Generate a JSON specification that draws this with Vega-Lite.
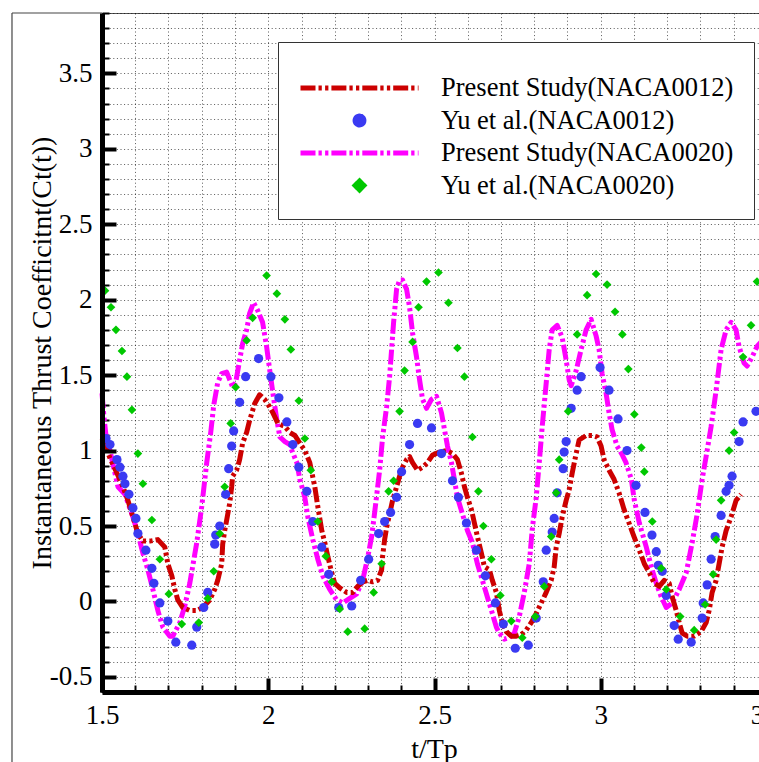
{
"$schema": "https://vega.github.io/schema/vega-lite/v6.json",
"width": 665, "height": 679,
"autosize": {"type": "none"},
"padding": {"left": 102, "top": 13, "right": -8, "bottom": 70},
"background": "white",
"config": {"view": {"stroke": "#555", "strokeWidth": 1}, "font": "Liberation Serif"},
"data": {"values": [
{"s":"P20","t":1.5,"c":1.38},{"s":"P20","t":1.506,"c":1.22},{"s":"P20","t":1.512,"c":1.1},{"s":"P20","t":1.524,"c":1.0},{"s":"P20","t":1.548,"c":0.76},{"s":"P20","t":1.569,"c":0.71},{"s":"P20","t":1.593,"c":0.56},{"s":"P20","t":1.608,"c":0.45},{"s":"P20","t":1.623,"c":0.32},{"s":"P20","t":1.638,"c":0.21},{"s":"P20","t":1.653,"c":0.08},{"s":"P20","t":1.668,"c":-0.06},{"s":"P20","t":1.683,"c":-0.17},{"s":"P20","t":1.704,"c":-0.23},{"s":"P20","t":1.713,"c":-0.23},{"s":"P20","t":1.734,"c":-0.14},{"s":"P20","t":1.749,"c":-0.03},{"s":"P20","t":1.764,"c":0.12},{"s":"P20","t":1.785,"c":0.39},{"s":"P20","t":1.8,"c":0.63},{"s":"P20","t":1.815,"c":0.92},{"s":"P20","t":1.827,"c":1.12},{"s":"P20","t":1.836,"c":1.3},{"s":"P20","t":1.848,"c":1.45},{"s":"P20","t":1.86,"c":1.51},{"s":"P20","t":1.875,"c":1.52},{"s":"P20","t":1.893,"c":1.42},{"s":"P20","t":1.902,"c":1.45},{"s":"P20","t":1.914,"c":1.6},{"s":"P20","t":1.923,"c":1.71},{"s":"P20","t":1.935,"c":1.8},{"s":"P20","t":1.944,"c":1.91},{"s":"P20","t":1.956,"c":1.98},{"s":"P20","t":1.968,"c":1.93},{"s":"P20","t":1.983,"c":1.85},{"s":"P20","t":1.995,"c":1.69},{"s":"P20","t":2.004,"c":1.54},{"s":"P20","t":2.014,"c":1.38},{"s":"P20","t":2.026,"c":1.2},{"s":"P20","t":2.035,"c":1.09},{"s":"P20","t":2.05,"c":1.06},{"s":"P20","t":2.065,"c":1.04},{"s":"P20","t":2.071,"c":1.0},{"s":"P20","t":2.086,"c":0.92},{"s":"P20","t":2.095,"c":0.81},{"s":"P20","t":2.11,"c":0.69},{"s":"P20","t":2.119,"c":0.56},{"s":"P20","t":2.134,"c":0.41},{"s":"P20","t":2.149,"c":0.28},{"s":"P20","t":2.164,"c":0.17},{"s":"P20","t":2.185,"c":0.08},{"s":"P20","t":2.206,"c":0.01},{"s":"P20","t":2.224,"c":-0.01},{"s":"P20","t":2.245,"c":0.02},{"s":"P20","t":2.266,"c":0.05},{"s":"P20","t":2.284,"c":0.14},{"s":"P20","t":2.299,"c":0.29},{"s":"P20","t":2.311,"c":0.43},{"s":"P20","t":2.32,"c":0.59},{"s":"P20","t":2.335,"c":0.87},{"s":"P20","t":2.344,"c":1.09},{"s":"P20","t":2.356,"c":1.29},{"s":"P20","t":2.365,"c":1.49},{"s":"P20","t":2.371,"c":1.67},{"s":"P20","t":2.377,"c":1.85},{"s":"P20","t":2.386,"c":2.07},{"s":"P20","t":2.395,"c":2.13},{"s":"P20","t":2.404,"c":2.13},{"s":"P20","t":2.416,"c":2.07},{"s":"P20","t":2.425,"c":1.95},{"s":"P20","t":2.434,"c":1.78},{"s":"P20","t":2.446,"c":1.62},{"s":"P20","t":2.455,"c":1.47},{"s":"P20","t":2.464,"c":1.34},{"s":"P20","t":2.476,"c":1.28},{"s":"P20","t":2.491,"c":1.34},{"s":"P20","t":2.506,"c":1.36},{"s":"P20","t":2.521,"c":1.25},{"s":"P20","t":2.53,"c":1.14},{"s":"P20","t":2.539,"c":1.03},{"s":"P20","t":2.551,"c":0.92},{"s":"P20","t":2.569,"c":0.69},{"s":"P20","t":2.584,"c":0.58},{"s":"P20","t":2.599,"c":0.47},{"s":"P20","t":2.614,"c":0.39},{"s":"P20","t":2.629,"c":0.25},{"s":"P20","t":2.644,"c":0.14},{"s":"P20","t":2.659,"c":0.03},{"s":"P20","t":2.674,"c":-0.08},{"s":"P20","t":2.686,"c":-0.17},{"s":"P20","t":2.695,"c":-0.21},{"s":"P20","t":2.71,"c":-0.25},{"s":"P20","t":2.725,"c":-0.24},{"s":"P20","t":2.74,"c":-0.21},{"s":"P20","t":2.755,"c":-0.1},{"s":"P20","t":2.77,"c":0.06},{"s":"P20","t":2.785,"c":0.25},{"s":"P20","t":2.794,"c":0.48},{"s":"P20","t":2.806,"c":0.69},{"s":"P20","t":2.815,"c":0.92},{"s":"P20","t":2.824,"c":1.16},{"s":"P20","t":2.836,"c":1.45},{"s":"P20","t":2.845,"c":1.67},{"s":"P20","t":2.854,"c":1.8},{"s":"P20","t":2.869,"c":1.83},{"s":"P20","t":2.884,"c":1.75},{"s":"P20","t":2.896,"c":1.6},{"s":"P20","t":2.905,"c":1.47},{"s":"P20","t":2.911,"c":1.43},{"s":"P20","t":2.926,"c":1.53},{"s":"P20","t":2.941,"c":1.67},{"s":"P20","t":2.956,"c":1.8},{"s":"P20","t":2.971,"c":1.87},{"s":"P20","t":2.986,"c":1.76},{"s":"P20","t":2.995,"c":1.67},{"s":"P20","t":3.004,"c":1.51},{"s":"P20","t":3.016,"c":1.38},{"s":"P20","t":3.025,"c":1.25},{"s":"P20","t":3.034,"c":1.14},{"s":"P20","t":3.049,"c":1.03},{"s":"P20","t":3.065,"c":0.97},{"s":"P20","t":3.076,"c":0.92},{"s":"P20","t":3.092,"c":0.81},{"s":"P20","t":3.101,"c":0.67},{"s":"P20","t":3.116,"c":0.52},{"s":"P20","t":3.137,"c":0.36},{"s":"P20","t":3.152,"c":0.23},{"s":"P20","t":3.167,"c":0.12},{"s":"P20","t":3.182,"c":0.03},{"s":"P20","t":3.197,"c":-0.04},{"s":"P20","t":3.215,"c":-0.01},{"s":"P20","t":3.236,"c":0.08},{"s":"P20","t":3.257,"c":0.19},{"s":"P20","t":3.275,"c":0.39},{"s":"P20","t":3.29,"c":0.58},{"s":"P20","t":3.305,"c":0.81},{"s":"P20","t":3.32,"c":1.0},{"s":"P20","t":3.332,"c":1.16},{"s":"P20","t":3.347,"c":1.4},{"s":"P20","t":3.362,"c":1.67},{"s":"P20","t":3.377,"c":1.8},{"s":"P20","t":3.392,"c":1.85},{"s":"P20","t":3.407,"c":1.8},{"s":"P20","t":3.416,"c":1.69},{"s":"P20","t":3.431,"c":1.58},{"s":"P20","t":3.44,"c":1.56},{"s":"P20","t":3.455,"c":1.62},{"s":"P20","t":3.47,"c":1.69},{"s":"P20","t":3.49,"c":1.74},
{"s":"P12","t":1.5,"c":1.08},{"s":"P12","t":1.512,"c":1.02},{"s":"P12","t":1.524,"c":0.95},{"s":"P12","t":1.545,"c":0.85},{"s":"P12","t":1.563,"c":0.76},{"s":"P12","t":1.578,"c":0.67},{"s":"P12","t":1.593,"c":0.56},{"s":"P12","t":1.608,"c":0.45},{"s":"P12","t":1.623,"c":0.4},{"s":"P12","t":1.644,"c":0.4},{"s":"P12","t":1.668,"c":0.41},{"s":"P12","t":1.689,"c":0.36},{"s":"P12","t":1.698,"c":0.25},{"s":"P12","t":1.71,"c":0.17},{"s":"P12","t":1.719,"c":0.08},{"s":"P12","t":1.728,"c":0.01},{"s":"P12","t":1.743,"c":-0.04},{"s":"P12","t":1.764,"c":-0.06},{"s":"P12","t":1.785,"c":-0.06},{"s":"P12","t":1.803,"c":-0.04},{"s":"P12","t":1.824,"c":0.01},{"s":"P12","t":1.839,"c":0.08},{"s":"P12","t":1.848,"c":0.14},{"s":"P12","t":1.86,"c":0.25},{"s":"P12","t":1.863,"c":0.38},{"s":"P12","t":1.869,"c":0.47},{"s":"P12","t":1.875,"c":0.54},{"s":"P12","t":1.884,"c":0.65},{"s":"P12","t":1.89,"c":0.76},{"s":"P12","t":1.893,"c":0.83},{"s":"P12","t":1.905,"c":0.87},{"s":"P12","t":1.914,"c":0.94},{"s":"P12","t":1.923,"c":1.05},{"s":"P12","t":1.935,"c":1.12},{"s":"P12","t":1.944,"c":1.2},{"s":"P12","t":1.959,"c":1.31},{"s":"P12","t":1.974,"c":1.37},{"s":"P12","t":1.989,"c":1.34},{"s":"P12","t":2.004,"c":1.29},{"s":"P12","t":2.014,"c":1.25},{"s":"P12","t":2.029,"c":1.18},{"s":"P12","t":2.05,"c":1.16},{"s":"P12","t":2.065,"c":1.12},{"s":"P12","t":2.08,"c":1.1},{"s":"P12","t":2.095,"c":1.05},{"s":"P12","t":2.11,"c":1.0},{"s":"P12","t":2.125,"c":0.92},{"s":"P12","t":2.14,"c":0.76},{"s":"P12","t":2.149,"c":0.63},{"s":"P12","t":2.161,"c":0.47},{"s":"P12","t":2.17,"c":0.39},{"s":"P12","t":2.179,"c":0.3},{"s":"P12","t":2.191,"c":0.19},{"s":"P12","t":2.2,"c":0.12},{"s":"P12","t":2.215,"c":0.09},{"s":"P12","t":2.236,"c":0.06},{"s":"P12","t":2.254,"c":0.06},{"s":"P12","t":2.269,"c":0.1},{"s":"P12","t":2.284,"c":0.13},{"s":"P12","t":2.299,"c":0.14},{"s":"P12","t":2.314,"c":0.13},{"s":"P12","t":2.329,"c":0.14},{"s":"P12","t":2.341,"c":0.21},{"s":"P12","t":2.344,"c":0.3},{"s":"P12","t":2.35,"c":0.41},{"s":"P12","t":2.356,"c":0.49},{"s":"P12","t":2.365,"c":0.58},{"s":"P12","t":2.374,"c":0.67},{"s":"P12","t":2.386,"c":0.76},{"s":"P12","t":2.395,"c":0.83},{"s":"P12","t":2.404,"c":0.89},{"s":"P12","t":2.416,"c":0.94},{"s":"P12","t":2.425,"c":0.96},{"s":"P12","t":2.434,"c":0.92},{"s":"P12","t":2.449,"c":0.87},{"s":"P12","t":2.464,"c":0.89},{"s":"P12","t":2.479,"c":0.92},{"s":"P12","t":2.494,"c":0.97},{"s":"P12","t":2.515,"c":0.99},{"s":"P12","t":2.536,"c":1.0},{"s":"P12","t":2.554,"c":0.98},{"s":"P12","t":2.569,"c":0.94},{"s":"P12","t":2.581,"c":0.85},{"s":"P12","t":2.59,"c":0.76},{"s":"P12","t":2.599,"c":0.69},{"s":"P12","t":2.611,"c":0.61},{"s":"P12","t":2.62,"c":0.52},{"s":"P12","t":2.629,"c":0.43},{"s":"P12","t":2.641,"c":0.32},{"s":"P12","t":2.65,"c":0.23},{"s":"P12","t":2.665,"c":0.21},{"s":"P12","t":2.674,"c":0.14},{"s":"P12","t":2.686,"c":0.06},{"s":"P12","t":2.695,"c":-0.06},{"s":"P12","t":2.704,"c":-0.14},{"s":"P12","t":2.716,"c":-0.2},{"s":"P12","t":2.731,"c":-0.23},{"s":"P12","t":2.746,"c":-0.23},{"s":"P12","t":2.761,"c":-0.22},{"s":"P12","t":2.776,"c":-0.19},{"s":"P12","t":2.791,"c":-0.14},{"s":"P12","t":2.806,"c":-0.08},{"s":"P12","t":2.821,"c":-0.01},{"s":"P12","t":2.836,"c":0.06},{"s":"P12","t":2.851,"c":0.14},{"s":"P12","t":2.86,"c":0.23},{"s":"P12","t":2.866,"c":0.36},{"s":"P12","t":2.875,"c":0.45},{"s":"P12","t":2.884,"c":0.56},{"s":"P12","t":2.896,"c":0.67},{"s":"P12","t":2.905,"c":0.74},{"s":"P12","t":2.914,"c":0.85},{"s":"P12","t":2.926,"c":0.98},{"s":"P12","t":2.935,"c":1.07},{"s":"P12","t":2.956,"c":1.1},{"s":"P12","t":2.974,"c":1.1},{"s":"P12","t":2.989,"c":1.09},{"s":"P12","t":3.001,"c":1.03},{"s":"P12","t":3.01,"c":0.94},{"s":"P12","t":3.025,"c":0.87},{"s":"P12","t":3.04,"c":0.81},{"s":"P12","t":3.055,"c":0.72},{"s":"P12","t":3.07,"c":0.61},{"s":"P12","t":3.085,"c":0.52},{"s":"P12","t":3.1,"c":0.43},{"s":"P12","t":3.116,"c":0.34},{"s":"P12","t":3.131,"c":0.25},{"s":"P12","t":3.146,"c":0.19},{"s":"P12","t":3.161,"c":0.12},{"s":"P12","t":3.176,"c":0.1},{"s":"P12","t":3.191,"c":0.14},{"s":"P12","t":3.206,"c":0.12},{"s":"P12","t":3.215,"c":0.03},{"s":"P12","t":3.227,"c":-0.06},{"s":"P12","t":3.236,"c":-0.14},{"s":"P12","t":3.245,"c":-0.21},{"s":"P12","t":3.26,"c":-0.23},{"s":"P12","t":3.281,"c":-0.23},{"s":"P12","t":3.302,"c":-0.2},{"s":"P12","t":3.317,"c":-0.14},{"s":"P12","t":3.326,"c":-0.06},{"s":"P12","t":3.335,"c":0.06},{"s":"P12","t":3.347,"c":0.14},{"s":"P12","t":3.356,"c":0.25},{"s":"P12","t":3.365,"c":0.36},{"s":"P12","t":3.377,"c":0.47},{"s":"P12","t":3.392,"c":0.56},{"s":"P12","t":3.407,"c":0.67},{"s":"P12","t":3.422,"c":0.71},
{"s":"Y12","t":1.512,"c":1.08},{"s":"Y12","t":1.524,"c":1.04},{"s":"Y12","t":1.545,"c":0.94},{"s":"Y12","t":1.554,"c":0.89},{"s":"Y12","t":1.563,"c":0.83},{"s":"Y12","t":1.569,"c":0.78},{"s":"Y12","t":1.581,"c":0.71},{"s":"Y12","t":1.593,"c":0.62},{"s":"Y12","t":1.602,"c":0.55},{"s":"Y12","t":1.608,"c":0.45},{"s":"Y12","t":1.632,"c":0.34},{"s":"Y12","t":1.65,"c":0.22},{"s":"Y12","t":1.656,"c":0.12},{"s":"Y12","t":1.674,"c":-0.01},{"s":"Y12","t":1.698,"c":-0.13},{"s":"Y12","t":1.722,"c":-0.27},{"s":"Y12","t":1.77,"c":-0.29},{"s":"Y12","t":1.785,"c":-0.17},{"s":"Y12","t":1.806,"c":-0.04},{"s":"Y12","t":1.818,"c":0.06},{"s":"Y12","t":1.839,"c":0.38},{"s":"Y12","t":1.842,"c":0.44},{"s":"Y12","t":1.854,"c":0.5},{"s":"Y12","t":1.872,"c":0.71},{"s":"Y12","t":1.881,"c":0.88},{"s":"Y12","t":1.89,"c":1.03},{"s":"Y12","t":1.896,"c":1.13},{"s":"Y12","t":1.914,"c":1.32},{"s":"Y12","t":1.932,"c":1.49},{"s":"Y12","t":1.971,"c":1.61},{"s":"Y12","t":2.008,"c":1.49},{"s":"Y12","t":2.032,"c":1.35},{"s":"Y12","t":2.056,"c":1.19},{"s":"Y12","t":2.074,"c":1.04},{"s":"Y12","t":2.092,"c":0.89},{"s":"Y12","t":2.116,"c":0.73},{"s":"Y12","t":2.134,"c":0.53},{"s":"Y12","t":2.161,"c":0.36},{"s":"Y12","t":2.182,"c":0.18},{"s":"Y12","t":2.212,"c":-0.04},{"s":"Y12","t":2.251,"c":-0.03},{"s":"Y12","t":2.278,"c":0.14},{"s":"Y12","t":2.302,"c":0.28},{"s":"Y12","t":2.332,"c":0.45},{"s":"Y12","t":2.35,"c":0.53},{"s":"Y12","t":2.368,"c":0.59},{"s":"Y12","t":2.386,"c":0.69},{"s":"Y12","t":2.401,"c":0.86},{"s":"Y12","t":2.425,"c":1.04},{"s":"Y12","t":2.449,"c":1.18},{"s":"Y12","t":2.491,"c":1.15},{"s":"Y12","t":2.521,"c":0.98},{"s":"Y12","t":2.554,"c":0.8},{"s":"Y12","t":2.572,"c":0.69},{"s":"Y12","t":2.596,"c":0.52},{"s":"Y12","t":2.626,"c":0.34},{"s":"Y12","t":2.653,"c":0.17},{"s":"Y12","t":2.683,"c":-0.01},{"s":"Y12","t":2.707,"c":-0.15},{"s":"Y12","t":2.743,"c":-0.31},{"s":"Y12","t":2.782,"c":-0.29},{"s":"Y12","t":2.806,"c":-0.11},{"s":"Y12","t":2.827,"c":0.13},{"s":"Y12","t":2.836,"c":0.34},{"s":"Y12","t":2.854,"c":0.46},{"s":"Y12","t":2.86,"c":0.55},{"s":"Y12","t":2.869,"c":0.72},{"s":"Y12","t":2.887,"c":0.88},{"s":"Y12","t":2.89,"c":0.99},{"s":"Y12","t":2.896,"c":1.06},{"s":"Y12","t":2.911,"c":1.28},{"s":"Y12","t":2.929,"c":1.4},{"s":"Y12","t":2.941,"c":1.49},{"s":"Y12","t":2.998,"c":1.55},{"s":"Y12","t":3.025,"c":1.4},{"s":"Y12","t":3.052,"c":1.21},{"s":"Y12","t":3.079,"c":1.0},{"s":"Y12","t":3.106,"c":0.77},{"s":"Y12","t":3.133,"c":0.59},{"s":"Y12","t":3.154,"c":0.44},{"s":"Y12","t":3.167,"c":0.33},{"s":"Y12","t":3.173,"c":0.24},{"s":"Y12","t":3.185,"c":0.2},{"s":"Y12","t":3.197,"c":0.04},{"s":"Y12","t":3.221,"c":-0.16},{"s":"Y12","t":3.233,"c":-0.25},{"s":"Y12","t":3.272,"c":-0.27},{"s":"Y12","t":3.305,"c":-0.11},{"s":"Y12","t":3.308,"c":-0.01},{"s":"Y12","t":3.32,"c":0.11},{"s":"Y12","t":3.332,"c":0.28},{"s":"Y12","t":3.344,"c":0.43},{"s":"Y12","t":3.362,"c":0.57},{"s":"Y12","t":3.377,"c":0.73},{"s":"Y12","t":3.386,"c":0.77},{"s":"Y12","t":3.395,"c":0.83},{"s":"Y12","t":3.416,"c":1.06},{"s":"Y12","t":3.428,"c":1.19},{"s":"Y12","t":3.467,"c":1.26},
{"s":"Y20","t":1.509,"c":2.06},{"s":"Y20","t":1.527,"c":1.95},{"s":"Y20","t":1.542,"c":1.8},{"s":"Y20","t":1.56,"c":1.66},{"s":"Y20","t":1.575,"c":1.49},{"s":"Y20","t":1.59,"c":1.27},{"s":"Y20","t":1.608,"c":0.98},{"s":"Y20","t":1.623,"c":0.78},{"s":"Y20","t":1.65,"c":0.54},{"s":"Y20","t":1.674,"c":0.28},{"s":"Y20","t":1.701,"c":0.05},{"s":"Y20","t":1.74,"c":-0.15},{"s":"Y20","t":1.791,"c":-0.14},{"s":"Y20","t":1.818,"c":0.02},{"s":"Y20","t":1.836,"c":0.2},{"s":"Y20","t":1.854,"c":0.45},{"s":"Y20","t":1.869,"c":0.76},{"s":"Y20","t":1.887,"c":1.18},{"s":"Y20","t":1.902,"c":1.42},{"s":"Y20","t":1.935,"c":1.73},{"s":"Y20","t":1.953,"c":1.88},{"s":"Y20","t":1.995,"c":2.16},{"s":"Y20","t":2.026,"c":2.04},{"s":"Y20","t":2.05,"c":1.87},{"s":"Y20","t":2.068,"c":1.67},{"s":"Y20","t":2.092,"c":1.33},{"s":"Y20","t":2.11,"c":1.08},{"s":"Y20","t":2.128,"c":0.87},{"s":"Y20","t":2.149,"c":0.53},{"s":"Y20","t":2.173,"c":0.3},{"s":"Y20","t":2.191,"c":0.13},{"s":"Y20","t":2.215,"c":-0.05},{"s":"Y20","t":2.239,"c":-0.2},{"s":"Y20","t":2.29,"c":-0.18},{"s":"Y20","t":2.317,"c":0.06},{"s":"Y20","t":2.341,"c":0.25},{"s":"Y20","t":2.362,"c":0.73},{"s":"Y20","t":2.377,"c":0.8},{"s":"Y20","t":2.395,"c":1.26},{"s":"Y20","t":2.41,"c":1.53},{"s":"Y20","t":2.434,"c":1.72},{"s":"Y20","t":2.452,"c":1.95},{"s":"Y20","t":2.476,"c":2.12},{"s":"Y20","t":2.512,"c":2.18},{"s":"Y20","t":2.542,"c":1.98},{"s":"Y20","t":2.569,"c":1.68},{"s":"Y20","t":2.59,"c":1.49},{"s":"Y20","t":2.614,"c":1.09},{"s":"Y20","t":2.632,"c":0.73},{"s":"Y20","t":2.647,"c":0.5},{"s":"Y20","t":2.671,"c":0.28},{"s":"Y20","t":2.698,"c":0.04},{"s":"Y20","t":2.731,"c":-0.13},{"s":"Y20","t":2.764,"c":-0.24},{"s":"Y20","t":2.803,"c":-0.1},{"s":"Y20","t":2.83,"c":0.1},{"s":"Y20","t":2.851,"c":0.43},{"s":"Y20","t":2.866,"c":0.72},{"s":"Y20","t":2.875,"c":0.94},{"s":"Y20","t":2.902,"c":1.26},{"s":"Y20","t":2.929,"c":1.77},{"s":"Y20","t":2.959,"c":2.03},{"s":"Y20","t":2.986,"c":2.17},{"s":"Y20","t":3.019,"c":2.1},{"s":"Y20","t":3.043,"c":1.92},{"s":"Y20","t":3.065,"c":1.77},{"s":"Y20","t":3.083,"c":1.54},{"s":"Y20","t":3.101,"c":1.24},{"s":"Y20","t":3.122,"c":1.02},{"s":"Y20","t":3.131,"c":0.86},{"s":"Y20","t":3.155,"c":0.53},{"s":"Y20","t":3.182,"c":0.22},{"s":"Y20","t":3.197,"c":0.08},{"s":"Y20","t":3.239,"c":-0.1},{"s":"Y20","t":3.281,"c":-0.19},{"s":"Y20","t":3.314,"c":-0.02},{"s":"Y20","t":3.338,"c":0.18},{"s":"Y20","t":3.347,"c":0.41},{"s":"Y20","t":3.362,"c":0.67},{"s":"Y20","t":3.386,"c":1.0},{"s":"Y20","t":3.401,"c":1.12},{"s":"Y20","t":3.428,"c":1.62},{"s":"Y20","t":3.452,"c":1.83},{"s":"Y20","t":3.47,"c":2.12}
]},
"encoding": {
  "color": {"field": "s", "type": "nominal",
    "scale": {"domain": ["P12","Y12","P20","Y20"], "range": ["#cc0000","#3a3af2","#ff00ff","#00c800"]},
    "legend": {
      "orient": "none", "legendX": 176, "legendY": 29, "direction": "vertical", "columns": 1,
      "title": " ", "titleFontSize": 9, "titlePadding": 4,
      "padding": 20, "fillColor": "white", "strokeColor": "#333",
      "labelFont": "Liberation Serif", "labelFontSize": 26.5, "labelColor": "black", "labelLimit": 500, "labelOffset": 20,
      "symbolSize": 13924, "symbolStrokeWidth": 5, "clipHeight": 26, "rowPadding": 5.5,
      "labelExpr": "{'P12':'Present Study(NACA0012)','Y12':'Yu et al.(NACA0012)','P20':'Present Study(NACA0020)','Y20':'Yu et al.(NACA0020)'}[datum.value]",
      "encode": {"symbols": {"update": {
        "shape": {"signal": "datum.value=='Y12' ? 'M0.075,0A0.075,0.075 0 1,1 -0.075,0A0.075,0.075 0 1,1 0.075,0Z' : datum.value=='Y20' ? 'M-0.075,0L0,-0.075L0.075,0L0,0.075Z' : 'M-1,0L1,0'"},
        "fill": {"signal": "datum.value=='Y12' ? '#3a3af2' : datum.value=='Y20' ? '#00c800' : 'transparent'"},
        "stroke": {"signal": "datum.value=='P12' ? '#cc0000' : datum.value=='P20' ? '#ff00ff' : 'transparent'"},
        "strokeWidth": {"value": 5},
        "strokeDash": {"signal": "(datum.value=='P12' || datum.value=='P20') ? [15,3,3.3,3.3,3.3,3] : [1,0]"},
        "opacity": {"value": 1}
      }}}
    }
  }
},
"layer": [
  {
    "data": {"values": [{}]},
    "mark": {"type": "rule", "strokeWidth": 1.2, "clip": false},
    "encoding": {
      "x": {"datum": 1.2293, "type": "quantitative", "axis": null},
      "y": {"datum": 3.9, "type": "quantitative", "axis": null},
      "y2": {"datum": -1.3},
      "color": {"value": "#444"}
    }
  },
  {
    "data": {"values": [{}]},
    "mark": {"type": "rule", "strokeWidth": 1.2, "clip": false},
    "encoding": {
      "x": {"datum": 1.2293, "type": "quantitative", "axis": null},
      "x2": {"datum": 1.5},
      "y": {"datum": 3.9, "type": "quantitative", "axis": null},
      "color": {"value": "#444"}
    }
  },
  {
    "transform": [{"filter": "datum.s=='P20'"}],
    "mark": {"type": "line", "strokeWidth": 5, "strokeDash": [15,3,3.3,3.3,3.3,3], "strokeJoin": "round"},
    "encoding": {
      "x": {"field": "t", "type": "quantitative",
        "scale": {"domain": [1.5, 3.5], "nice": false, "zero": false},
        "axis": {"orient": "bottom", "values": [1.5,1.6,1.7,1.8,1.9,2.0,2.1,2.2,2.3,2.4,2.5,2.6,2.7,2.8,2.9,3.0,3.1,3.2,3.3,3.4,3.5],
          "grid": true, "gridColor": "#000", "gridDash": [1,2.6], "gridWidth": 1, "gridOpacity": 0.65,
          "ticks": true, "tickSize": -7, "tickWidth": 2, "tickColor": "black", "labels": false, "domain": false, "title": null, "zindex": 0}},
      "y": {"field": "c", "type": "quantitative",
        "scale": {"domain": [-0.6, 3.9], "nice": false, "zero": false},
        "axis": {"orient": "left", "values": [-0.6,-0.5,-0.4,-0.3,-0.2,-0.1,0,0.1,0.2,0.3,0.4,0.5,0.6,0.7,0.8,0.9,1.0,1.1,1.2,1.3,1.4,1.5,1.6,1.7,1.8,1.9,2.0,2.1,2.2,2.3,2.4,2.5,2.6,2.7,2.8,2.9,3.0,3.1,3.2,3.3,3.4,3.5,3.6,3.7,3.8,3.9],
          "grid": true, "gridColor": "#000", "gridDash": [1,2.6], "gridWidth": 1, "gridOpacity": 0.65,
          "ticks": true, "tickSize": -7, "tickWidth": 2, "tickColor": "black", "labels": false, "domain": false, "title": null, "zindex": 0}}
    }
  },
  {
    "transform": [{"filter": "datum.s=='P12'"}],
    "mark": {"type": "line", "strokeWidth": 5, "strokeDash": [15,3,3.3,3.3,3.3,3], "strokeJoin": "round"},
    "encoding": {
      "x": {"field": "t", "type": "quantitative",
        "scale": {"domain": [1.5, 3.5], "nice": false, "zero": false},
        "axis": {"orient": "bottom", "values": [1.5,2,2.5,3,3.5], "labelExpr": "datum.value + ''",
          "grid": false, "ticks": true, "tickSize": -14, "tickWidth": 4, "tickColor": "black",
          "domain": true, "domainWidth": 5, "domainColor": "black",
          "labelFont": "Liberation Serif", "labelFontSize": 27, "labelColor": "black", "labelPadding": 24, "labelFlush": false, "labelOverlap": false,
          "title": "t/Tp", "titleFont": "Liberation Serif", "titleFontSize": 28, "titleFontWeight": "normal", "titleColor": "black",
          "titleX": 332, "titleY": 65, "titleAlign": "center", "titleBaseline": "alphabetic", "zindex": 2}},
      "y": {"field": "c", "type": "quantitative",
        "scale": {"domain": [-0.6, 3.9], "nice": false, "zero": false},
        "axis": {"orient": "left", "values": [-0.5,0,0.5,1,1.5,2,2.5,3,3.5], "labelExpr": "datum.value + ''",
          "grid": false, "ticks": true, "tickSize": -14, "tickWidth": 4, "tickColor": "black",
          "domain": true, "domainWidth": 5, "domainColor": "black",
          "labelFont": "Liberation Serif", "labelFontSize": 27, "labelColor": "black", "labelPadding": 24, "labelFlush": false, "labelOverlap": false,
          "title": "Instantaneous Thrust Coefficitnt(Ct(t))", "titleFont": "Liberation Serif", "titleFontSize": 28, "titleFontWeight": "normal", "titleColor": "black",
          "titleX": -52, "titleY": 339.5, "titleAngle": -90, "titleAlign": "center", "titleBaseline": "alphabetic", "zindex": 2}}
    }
  },
  {
    "transform": [{"filter": "datum.s=='Y12'"}],
    "mark": {"type": "point", "filled": true, "shape": "circle", "size": 85, "opacity": 1},
    "encoding": {
      "x": {"field": "t", "type": "quantitative", "axis": null},
      "y": {"field": "c", "type": "quantitative", "axis": null}
    }
  },
  {
    "transform": [{"filter": "datum.s=='Y20'"}],
    "mark": {"type": "point", "filled": true, "shape": "diamond", "size": 75, "opacity": 1},
    "encoding": {
      "x": {"field": "t", "type": "quantitative", "axis": null},
      "y": {"field": "c", "type": "quantitative", "axis": null}
    }
  }
],
"resolve": {"axis": {"x": "independent", "y": "independent"}}
}
